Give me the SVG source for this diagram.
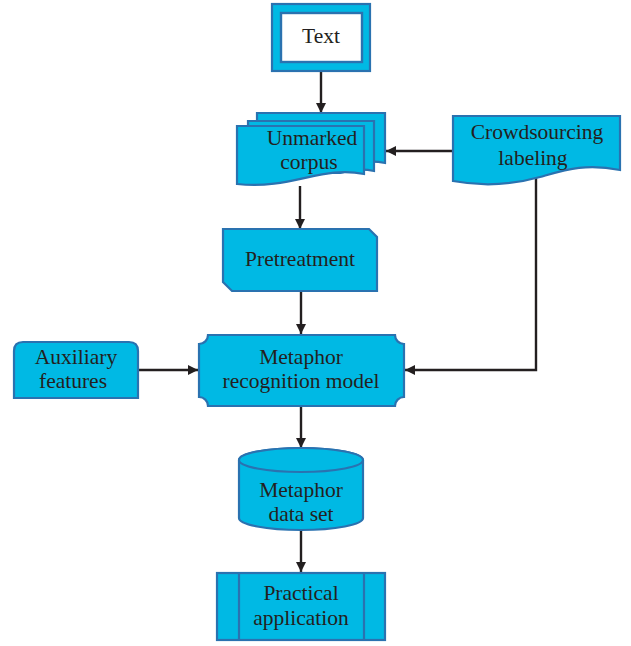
<svg xmlns="http://www.w3.org/2000/svg" width="631" height="646" viewBox="0 0 631 646">
<style>
.n{fill:#00B9E4;stroke:#2A72B0;stroke-width:2.2}
.t{font-family:"Liberation Serif","Times New Roman",serif;font-size:21.5px;fill:#231F20;text-anchor:middle}
.c{fill:none;stroke:#231F20;stroke-width:2.4}
</style>
<defs>
<marker id="ah" viewBox="0 0 10 10" refX="10" refY="5" markerWidth="10" markerHeight="10" markerUnits="userSpaceOnUse" orient="auto">
<path d="M0,0 L10,5 L0,10 Z" fill="#231F20"/>
</marker>
</defs>
<rect width="631" height="646" fill="#fff"/>
<g id="connectors">
<line class="c" x1="321" y1="71" x2="321" y2="113" marker-end="url(#ah)"/>
<line class="c" x1="453" y1="151" x2="386" y2="151" marker-end="url(#ah)"/>
<line class="c" x1="300" y1="186" x2="300" y2="229" marker-end="url(#ah)"/>
<polyline class="c" points="536,177 536,370 405,370" marker-end="url(#ah)"/>
<line class="c" x1="301" y1="291" x2="301" y2="334" marker-end="url(#ah)"/>
<line class="c" x1="138" y1="370" x2="198" y2="370" marker-end="url(#ah)"/>
<line class="c" x1="301" y1="406" x2="301" y2="448" marker-end="url(#ah)"/>
<line class="c" x1="301" y1="530" x2="301" y2="572" marker-end="url(#ah)"/>
</g>
<g id="text-node">
<rect class="n" x="272" y="4" width="98" height="67" stroke-width="2.8"/>
<rect x="281" y="13" width="81" height="49" fill="#fff" stroke="#2A72B0" stroke-width="2.4"/>
<text class="t" x="321" y="43">Text</text>
</g>
<g id="unmarked-corpus">
<path class="n" d="M257,113 H385 V163 C370,160 360,162 350,165 L257,165 Z"/>
<path class="n" d="M248,121 H374 V171 C360,168 350,170 340,173 L248,173 Z"/>
<path class="n" d="M237,126 H364 V174 C322,165 292,190 237,184 Z"/>
<text class="t" x="312" y="145">Unmarked</text>
<text class="t" x="309" y="169">corpus</text>
</g>
<g id="crowdsourcing">
<path class="n" d="M453,116 H620 V170 C585,163 565,170 540,177 C515,184 485,187 453,181 Z"/>
<text class="t" x="537" y="139">Crowdsourcing</text>
<text class="t" x="533" y="165">labeling</text>
</g>
<g id="pretreatment">
<path class="n" d="M223,229 H369 L377,237 V291 H232 L223,282 Z"/>
<text class="t" x="300" y="266">Pretreatment</text>
</g>
<g id="auxiliary">
<path class="n" d="M14,398 V351 Q14,342 23,342 H129 Q138,342 138,351 V398 Z"/>
<text class="t" x="76" y="364">Auxiliary</text>
<text class="t" x="73" y="388">features</text>
</g>
<g id="model">
<path class="n" d="M208,335 H395 A9,9 0 0 0 404,344 V397 A9,9 0 0 0 395,406 H208 A9,9 0 0 0 199,397 V344 A9,9 0 0 0 208,335 Z"/>
<text class="t" x="301" y="364">Metaphor</text>
<text class="t" x="301" y="388">recognition model</text>
</g>
<g id="dataset">
<path class="n" d="M239,460 V518 A62,12 0 0 0 363,518 V460 A62,12 0 0 0 239,460 Z"/>
<ellipse class="n" cx="301" cy="460" rx="62" ry="12"/>
<text class="t" x="301" y="497">Metaphor</text>
<text class="t" x="301" y="521">data set</text>
</g>
<g id="practical">
<rect class="n" x="217" y="573" width="168" height="67"/>
<line x1="239" y1="573" x2="239" y2="640" stroke="#2A72B0" stroke-width="2.2"/>
<line x1="364" y1="573" x2="364" y2="640" stroke="#2A72B0" stroke-width="2.2"/>
<text class="t" x="301" y="600">Practical</text>
<text class="t" x="301" y="625">application</text>
</g>
</svg>
